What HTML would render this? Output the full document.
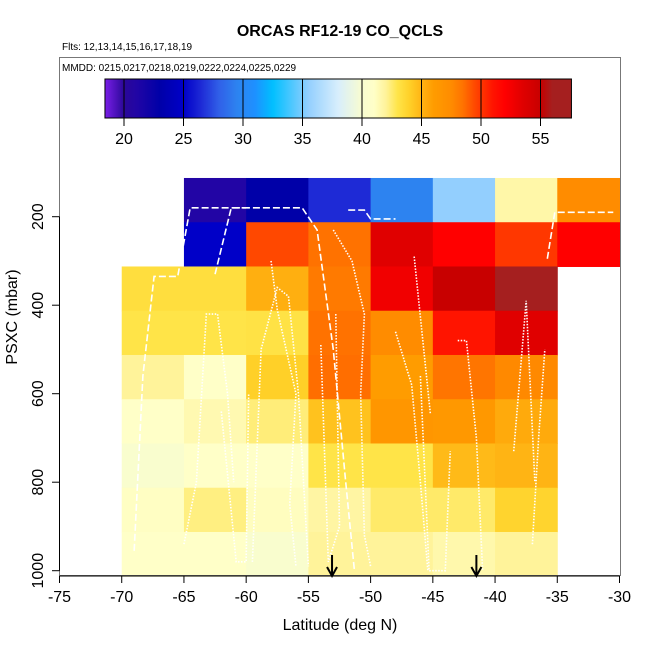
<!DOCTYPE html>
<html><head><meta charset="utf-8"><style>
html,body{margin:0;padding:0;background:#fff;}
svg{display:block;font-family:"Liberation Sans",sans-serif;}
</style></head><body>
<svg id="chart" width="650" height="650" viewBox="0 0 650 650">
<text x="340" y="36" text-anchor="middle" font-size="16" font-weight="bold">ORCAS RF12-19 CO_QCLS</text>
<text x="62" y="50" font-size="10">Flts: 12,13,14,15,16,17,18,19</text>
<g id="cells"></g>
<g id="tracks"></g>
<rect x="59.5" y="57.5" width="561" height="518" fill="none" stroke="#777" stroke-width="1"/>
<text x="62" y="71" font-size="10">MMDD: 0215,0217,0218,0219,0222,0224,0225,0229</text>
<g id="cbar"></g>
<g id="axes"></g>
<text x="340" y="630" text-anchor="middle" font-size="16">Latitude (deg N)</text>
<text transform="translate(17,317) rotate(-90)" text-anchor="middle" font-size="16">PSXC (mbar)</text>
</svg>
<script>
const latEdges=[-70,-65,-60,-55,-50,-45,-40,-35];
const presCenters=[162.5,262.5,362.5,462.5,562.5,662.5,762.5,862.5,962.5];
const coValues=[
[null,21,23,26.5,29.5,35.5,41.7,47.5],
[null,25,49.5,48.5,53.5,52,50,52],
[43.3,43.3,45.2,48.2,52.7,55,56,null],
[43,43,43.1,48.5,47.5,51,53.5,null],
[42,41,44,48.6,46,48.4,47.6,null],
[41,41.5,42.4,44.5,46.6,46.4,45.4,null],
[40.2,41,41,43,43,44.8,45,null],
[41.1,42.3,41.2,41.8,42.6,42.6,43.8,null],
[41,41,40.2,42,42,41.6,42,null]];
const xTicks=[-75,-70,-65,-60,-55,-50,-45,-40,-35,-30];
const yTicks=[200,400,600,800,1000];
const cbTicks=[20,25,30,35,40,45,50,55];
const cbRange=[18.4,57.6];
const arrowLats=[-53.1,-41.5];
const tracks=[
[[-62.5,330],[-61.2,180],[-55.5,180],[-54.3,230],[-53,500],[-52,800],[-51.3,1000]],
[[-69,955],[-68.3,560],[-67.4,335],[-65.5,335],[-64.5,180],[-60,180]],
[[-35.8,295],[-35.2,190],[-30.5,190]],
[[-51.8,185],[-50.5,185],[-50,205],[-48,205]],
[[-53,230],[-51.5,300],[-50.5,420],[-50.8,600],[-50.5,920],[-50,990]],
[[-46.5,290],[-45.2,645]],
[[-38.5,730],[-37.5,390],[-36.8,800]],
[[-43,480],[-42.3,480],[-41.5,700],[-41,1000]],
[[-65,940],[-64,800],[-63.2,420],[-62.3,420],[-61.5,600],[-61,800]],
[[-59.5,980],[-58.8,500],[-57.5,360],[-56.6,380],[-55.8,600],[-55,990]],
[[-58,300],[-57.5,410],[-56,600],[-56.5,850],[-56,990]],
[[-48,460],[-46.7,580],[-46,800],[-45.4,1000]],
[[-62,640],[-60.8,980],[-60,980],[-59.8,600]],
[[-54,490],[-53.4,980],[-52.5,900],[-52.8,420]],
[[-37,940],[-36.5,700],[-36,500]],
[[-46,560],[-45.3,1000],[-44,1000],[-43.6,730]]];

const NS='http://www.w3.org/2000/svg';
const X=lat=>59.5+(lat+75)*(560/45);
const Y=p=>216.7+(p-200)*0.4425;
const stops=[[18.4,'#7a1ee8'],[20,'#2a0898'],[21,'#2205a5'],[23,'#0000a8'],[25,'#0000c8'],[26.5,'#1e2ad6'],[28,'#3060e8'],[29.5,'#2d83f0'],[31,'#1e90ff'],[32.5,'#00bfff'],[35.5,'#93cffe'],[38,'#d8eefc'],[40,'#f8fcd0'],[41,'#ffffc8'],[42,'#fff39a'],[43,'#ffe448'],[44,'#ffd028'],[45,'#ffb414'],[46,'#ff9c00'],[47.5,'#ff8c00'],[48.5,'#ff7200'],[49.5,'#ff4800'],[51,'#ff1400'],[52,'#ff0000'],[53.5,'#e00000'],[55,'#c80000'],[56,'#a51f1f'],[58.4,'#a51f1f']];
function hx(c){return [1,3,5].map(i=>parseInt(c.substr(i,2),16));}
function col(v){
 if(v<=stops[0][0])return stops[0][1];
 for(let i=1;i<stops.length;i++){if(v<=stops[i][0]){const a=stops[i-1],b=stops[i],t=(v-a[0])/(b[0]-a[0]);const ca=hx(a[1]),cb=hx(b[1]);return 'rgb('+ca.map((x,k)=>Math.round(x+(cb[k]-x)*t)).join(',')+')';}}
 return stops[stops.length-1][1];}
function mk(tag,attrs,parent){const e=document.createElementNS(NS,tag);for(const k in attrs)e.setAttribute(k,attrs[k]);parent.appendChild(e);return e;}

const cells=document.getElementById('cells');
coValues.forEach((row,r)=>row.forEach((v,c)=>{
 if(v===null)return;
 const x0=X(latEdges[c]),x1=X(latEdges[c]+5),y0=Y(presCenters[r]-50),y1=Y(presCenters[r]+50);
 const e=mk('rect',{x:x0,y:y0,width:x1-x0+0.5,height:y1-y0+0.5,fill:col(v)},cells);
 
 
}));

const tg=document.getElementById('tracks');
tracks.forEach((t,i)=>{
 const e=mk('polyline',{points:t.map(p=>X(p[0])+','+Y(p[1])).join(' '),fill:'none',stroke:'#fff','stroke-width':1.6,'stroke-dasharray':i<4?'7 3':'1.5 1.5'},tg);
 
 
});

// colorbar
const cb=document.getElementById('cbar');
const CX=v=>124+(v-20)*11.9;
const defs=mk('defs',{},cb);
const lg=mk('linearGradient',{id:'cg',x1:'0',x2:'1',y1:'0',y2:'0'},defs);
for(let v=cbRange[0];v<=cbRange[1]+0.001;v+=0.2){mk('stop',{offset:((v-cbRange[0])/(cbRange[1]-cbRange[0])).toFixed(4),'stop-color':col(v)},lg);}
const bar=mk('rect',{x:CX(cbRange[0]),y:79,width:CX(cbRange[1])-CX(cbRange[0]),height:39,fill:'url(#cg)',stroke:'#000','stroke-width':1},cb);


cbTicks.forEach(v=>{
 const l=mk('line',{x1:CX(v),x2:CX(v),y1:79,y2:126,stroke:'#000','stroke-width':1},cb);
 
 
 const t=mk('text',{x:CX(v),y:144,'text-anchor':'middle','font-size':16},cb);
 t.textContent=v;
 
 
});

// axes
const ax=document.getElementById('axes');
mk('line',{x1:X(-75),x2:X(-30),y1:576,y2:576,stroke:'#000'},ax);
xTicks.forEach(v=>{
 mk('line',{x1:X(v),x2:X(v),y1:576,y2:583,stroke:'#000'},ax);
 const t=mk('text',{x:X(v),y:602,'text-anchor':'middle','font-size':16},ax);
 t.textContent=v;
 
 
});
mk('line',{x1:59.5,x2:59.5,y1:Y(200),y2:Y(1000),stroke:'#000'},ax);
yTicks.forEach(v=>{
 mk('line',{x1:52,x2:59.5,y1:Y(v),y2:Y(v),stroke:'#000'},ax);
 const t=mk('text',{transform:'translate(43,'+Y(v)+') rotate(-90)','text-anchor':'middle','font-size':16},ax);
 t.textContent=v;
 
 
});
arrowLats.forEach(v=>{
 const g=mk('g',{},ax);
 
 
 mk('line',{x1:X(v),x2:X(v),y1:555,y2:575,stroke:'#000','stroke-width':2},g);
 mk('polyline',{points:(X(v)-5)+',567 '+X(v)+',576 '+(X(v)+5)+',567',fill:'none',stroke:'#000','stroke-width':2},g);
});
</script>
</body></html>
